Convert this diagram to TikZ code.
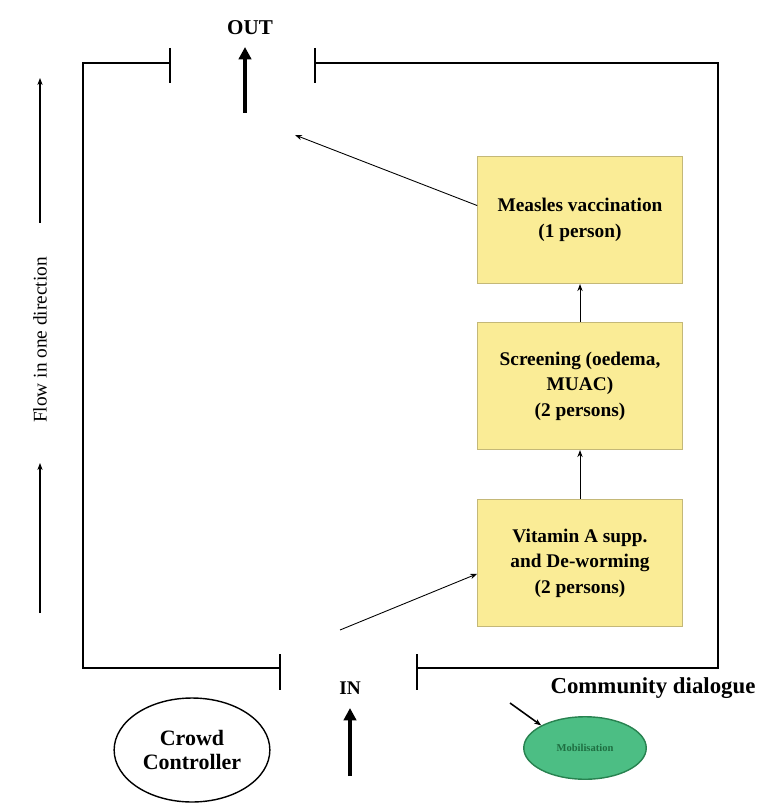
\documentclass[tikz,border=0pt]{standalone}
\usepackage{fontspec}
\setmainfont{Liberation Serif}
\usetikzlibrary{arrows.meta,shapes.geometric}
\definecolor{stationfill}{RGB}{250,236,150}
\definecolor{stationedge}{RGB}{196,184,120}
\definecolor{dialoguefill}{RGB}{76,190,132}
\definecolor{dialogueedge}{RGB}{40,130,80}
\definecolor{dialoguetext}{RGB}{30,110,65}

\begin{document}
\begin{tikzpicture}[x=0.02cm, y=-0.02cm,
  station/.style={draw=stationedge, fill=stationfill, minimum width=4.1cm, minimum height=2.55cm,
    align=center, font=\fontsize{11}{14.5}\selectfont\bfseries},
  wall/.style={line width=1.4pt},
  bigarrow/.style={line width=1.8pt, -{Triangle[length=7pt,width=7pt]}},
  smallarrow/.style={line width=0.5pt, -{Stealth[length=4pt]}},
  flowarrow/.style={line width=0.9pt, -{Stealth[length=4pt]}}]
\useasboundingbox (0,0) rectangle (768,803);
% walls with the two doors
\draw[wall] (170,63) -- (83,63) -- (83,668) -- (280,668);
\draw[wall] (315,63) -- (718,63) -- (718,668) -- (417,668);
\draw[wall] (170,48) -- (170,83);
\draw[wall] (315,48) -- (315,83);
\draw[wall] (280,654) -- (280,690);
\draw[wall] (417,654) -- (417,690);
% doors
\node[font=\fontsize{12}{14}\selectfont\bfseries] (outlbl) at (250,28) {OUT};
\node[font=\fontsize{11}{13}\selectfont\bfseries] (inlbl) at (350,688) {IN};
\coordinate (outfoot) at (245,113);
\coordinate (outtip) at (245,47);
\coordinate (infoot) at (350,776);
\coordinate (intip) at (350,708);
\draw[bigarrow] (outfoot) -- (outtip);
\draw[bigarrow] (infoot) -- (intip);
% stations
\node[station] (measles) at (580,220) {Measles vaccination\\(1 person)};
\node[station] (screening) at (580,386) {Screening (oedema,\\MUAC)\\(2 persons)};
\node[station] (vitamin) at (580,563) {Vitamin A supp.\\and De-worming\\(2 persons)};
\coordinate (exitpt) at (295,135);
\coordinate (entrypt) at (340,630);
\draw[smallarrow] (entrypt) -- (vitamin.186);
\draw[smallarrow] (vitamin) -- (screening);
\draw[smallarrow] (screening) -- (measles);
\draw[smallarrow] (measles.172) -- (exitpt);
% flow along the left side
\node[rotate=90, font=\fontsize{11}{13}\selectfont] (flow) at (40,340) {Flow in one direction};
\coordinate (flowtop) at (40,78);
\coordinate (flowbottom) at (40,613);
\draw[flowarrow] (40,223) -- (flowtop);
\draw[flowarrow] (flowbottom) -- (40,463);
% outside the site
\node[draw, ellipse, line width=0.8pt, minimum width=2.6cm, minimum height=2.08cm, align=center,
  font=\fontsize{12.5}{14}\selectfont\bfseries] (crowd) at (192,750) {Crowd\\Controller};
\node[font=\fontsize{13}{15}\selectfont\bfseries] (dialogue) at (653,688) {Community dialogue};
\node[draw=dialogueedge, fill=dialoguefill, ellipse, line width=0.8pt, minimum width=2.45cm, minimum height=1.25cm,
  text=dialoguetext, font=\fontsize{6}{7}\selectfont\bfseries] (mobil) at (585,748) {Mobilisation};
\coordinate (dialoguept) at (510,703);
\draw[smallarrow, line width=0.9pt] (dialoguept) -- (mobil.north west);
\end{tikzpicture}
\end{document}
